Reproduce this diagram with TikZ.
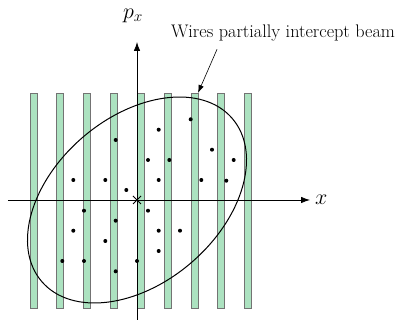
\documentclass[tikz,border=0pt]{standalone}
\usepackage{fix-cm}
\usepackage{amsmath}
\usepackage{xcolor}
\usepackage{tikz}
\usetikzlibrary{arrows.meta}
\definecolor{wiregreen}{RGB}{172,226,192}

\begin{document}
\begin{tikzpicture}[
x=1pt, y=1pt,
wire/.style={draw=black!55, fill=wiregreen, line width=0.6pt},
axis/.style={line width=0.8pt, -{Latex[length=9pt,width=6.5pt]}},
beam/.style={line width=1pt},
axlabel/.style={font=\fontsize{22}{22}\selectfont, inner sep=2pt},
note/.style={font=\fontsize{18.2}{20}\selectfont, inner sep=1pt}
]
\useasboundingbox (-137,-120) rectangle (261,200);

% wires
\foreach \k in {-4,...,4}
  \draw[wire] ({3.7+26.8*\k-3.5},-108) rectangle ({3.7+26.8*\k+3.5},107);

% axes
\coordinate (o) at (0,0);
\coordinate (xmin) at (-129,0);
\coordinate (xmax) at (173,0);
\coordinate (pmin) at (0,-120);
\coordinate (pmax) at (0,158);
\draw[axis] (xmin) -- (xmax);
\draw[axis] (pmin) -- (pmax);
\node[axlabel, right=3pt] (xlab) at (xmax) {$x$};
\node[axlabel] (plab) at (-4,184) {$p_x$};

% beam
\draw[beam, rotate=40.5] (o) ellipse [x radius=125.4, y radius=82.9];
\draw[line width=1pt] (o) +(-4,-4) -- +(4,4) (o) +(-4,4) -- +(4,-4);

% particles
\foreach \px/\py in {-21.3/60, -63.7/20, -31.7/20, -10.7/10, -53/-10.7,
  -21.3/-20.7, -63.7/-30.7, -31.7/-41, -74.7/-61, -53/-61, 0/-61,
  -21.3/-71.3, 11/40, 21.7/70.3, 21.7/20, 32.3/40, 53.7/80.7, 11/-10.7,
  21.7/-30.7, 43/-30.7, 75/50.3, 96.7/40, 64.3/20, 89.3/19.3, 21.7/-51}
  \fill (\px,\py) circle (2);

% annotation
\node[note] (wires) at (146,167) {Wires partially intercept beam};
\coordinate (hit) at (61,107);
\draw[line width=0.6pt, -{Latex[length=8pt,width=5.5pt]}]
  ([xshift=-66pt,yshift=-7pt]wires.south) -- (hit);

\end{tikzpicture}
\end{document}
